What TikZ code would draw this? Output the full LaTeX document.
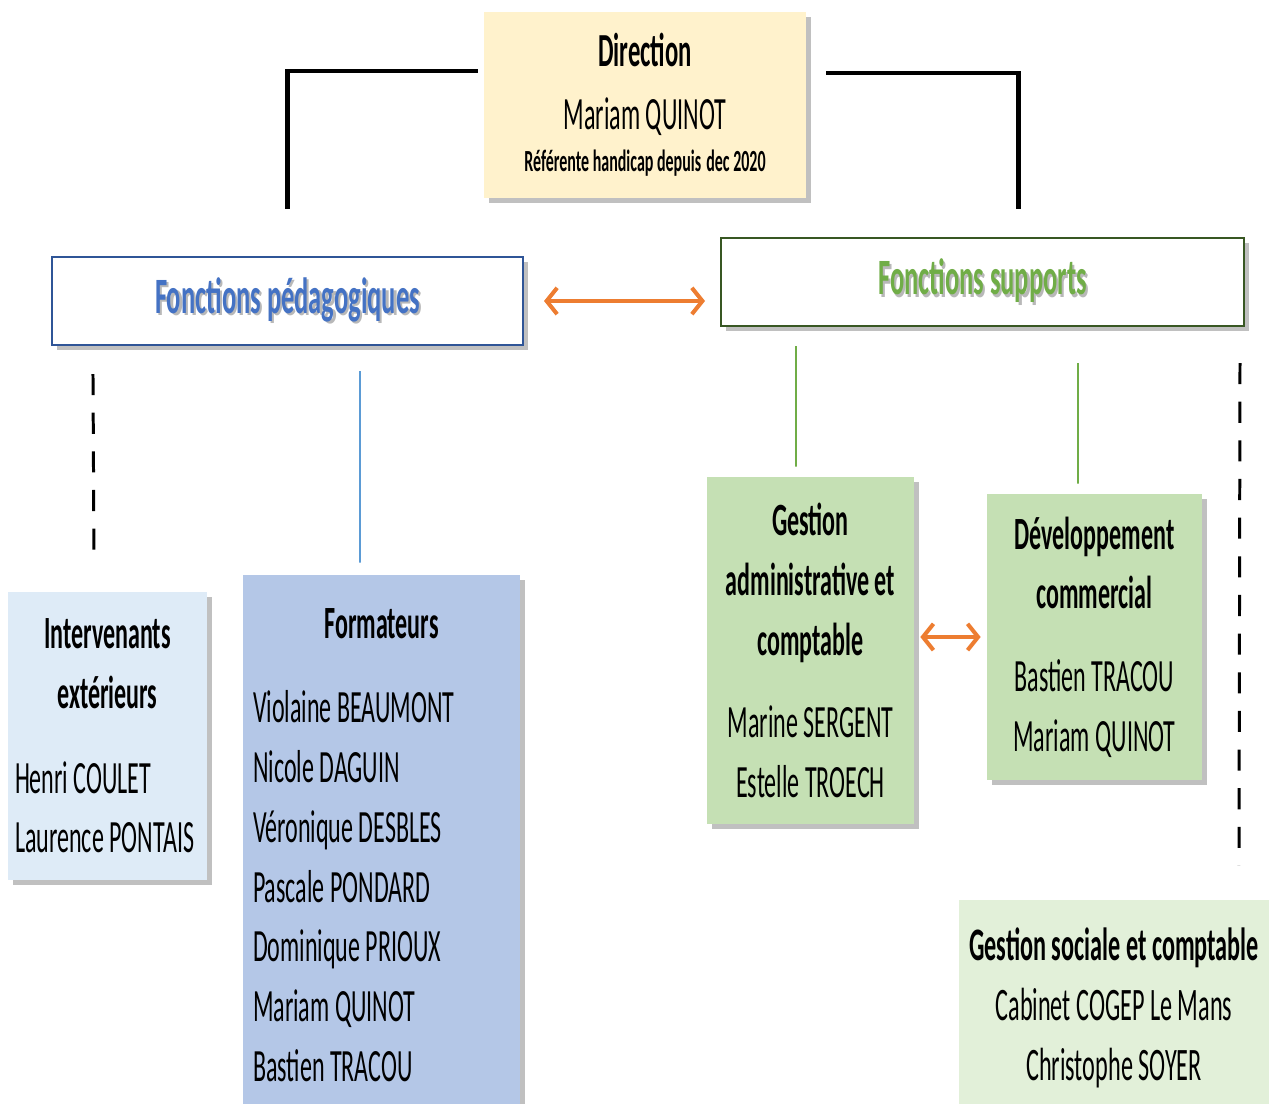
\documentclass[tikz,border=0pt]{standalone}
\usepackage{fontspec}
\setmainfont{Carlito}[FakeStretch=0.52]
\usepackage{tikz}
\usetikzlibrary{positioning,shadows,arrows.meta}

\definecolor{dirfill}{HTML}{FFF2CC}
\definecolor{pedborder}{HTML}{2F5597}
\definecolor{pedtext}{HTML}{4472C4}
\definecolor{supborder}{HTML}{385723}
\definecolor{suptext}{HTML}{70AD47}
\definecolor{intvfill}{HTML}{DEEBF7}
\definecolor{formfill}{HTML}{B4C7E7}
\definecolor{vertfill}{HTML}{C5E0B4}
\definecolor{socfill}{HTML}{E2F0D9}
\definecolor{orangeline}{HTML}{ED7D31}
\definecolor{blueline}{HTML}{5B9BD5}

\newcommand{\ombre}[2]{\makebox[0pt][l]{\hspace{1.3pt}\raisebox{-1.3pt}{\color{black!28}#2}}\textcolor{#1}{#2}}
\newcommand{\titre}[1]{\hfill\textbf{#1}\hfill\null}

\begin{document}
\begin{tikzpicture}[x=0.02cm,y=-0.02cm,
    box/.style={rectangle,inner sep=0pt,drop shadow={shadow xshift=3pt,shadow yshift=-3pt,opacity=.45,fill=black!55}},
    noms/.style={font=\fontsize{26.3}{34}\selectfont},
    link/.style={line width=2.3pt},
    tirets/.style={line width=1.7pt,dash pattern=on 12pt off 10pt},
    fleche/.style={draw=orangeline,line width=2.3pt,arrows={Straight Barb[length=6pt,width=15pt]-Straight Barb[length=6pt,width=15pt]}}]
 \useasboundingbox (0,0) rectangle (1269,1104);

  % Direction
  \node[box,fill=dirfill,minimum width=6.44cm,minimum height=3.72cm,align=center,font=\fontsize{26.3}{36}\selectfont] (dir) at (645,105)
     {{\fontsize{27}{36}\selectfont\bfseries Direction}\\Mariam QUINOT\\[-12pt]{\fontsize{17.5}{20}\selectfont\bfseries Référente handicap depuis\,dec 2020}};

  % les deux fonctions
  \node[box,draw=pedborder,line width=1.2pt,fill=white,minimum width=9.42cm,minimum height=1.76cm,font=\fontsize{29}{36}\selectfont\bfseries] (ped) at (287.5,301)
     {\ombre{pedtext}{Fonctions pédagogiques}};
  \node[box,draw=supborder,line width=1.2pt,fill=white,minimum width=10.46cm,minimum height=1.76cm,font=\fontsize{29}{36}\selectfont\bfseries] (sup) at (982.5,282)
     {\ombre{suptext}{Fonctions supports}};

  % pedagogie
  \node[box,fill=intvfill,minimum width=3.98cm,minimum height=5.76cm,text width=3.7cm,align=flush left,noms] (intv) at (107.5,736)
     {\titre{Intervenants}\\\titre{extérieurs}\\[.5cm]Henri COULET\\Laurence PONTAIS};
  \node[box,fill=formfill,minimum width=5.54cm,minimum height=10.8cm,text width=5.14cm,align=flush left,noms] (form) at (381.5,845)
     {\titre{Formateurs}\\[.5cm]Violaine BEAUMONT\\Nicole DAGUIN\\Véronique DESBLES\\Pascale PONDARD\\Dominique PRIOUX\\Mariam QUINOT\\Bastien TRACOU};

  % supports
  \node[box,fill=vertfill,minimum width=4.14cm,minimum height=6.94cm,align=center,noms] (gadm) at (810.5,650.5)
     {\textbf{Gestion}\\\textbf{administrative et}\\\textbf{comptable}\\[.46cm]Marine SERGENT\\Estelle TROECH};
  \node[box,fill=vertfill,minimum width=4.3cm,minimum height=5.72cm,align=center,noms] (dev) at (1094.5,637)
     {\textbf{Développement}\\\textbf{commercial}\\[.46cm]Bastien TRACOU\\Mariam QUINOT};
  \node[box,fill=socfill,minimum width=6.2cm,minimum height=4.32cm,align=center,font=\fontsize{26.5}{34}\selectfont] (gsoc) at (1114,1008)
     {\textbf{Gestion sociale et comptable}\\Cabinet COGEP Le Mans\\Christophe SOYER};

  % liens
  \draw[link] ([xshift=-.12cm,yshift=-1.18cm]dir.north west) -| ([yshift=.94cm]ped.north);
  \draw[link] ([xshift=.4cm,yshift=-1.22cm]dir.north east) -| ([xshift=.72cm,yshift=.56cm]sup.north);
  \draw[fleche,shorten <=.4cm,shorten >=.3cm] (ped.east) -- (ped.east -| sup.west);
  \draw[fleche,shorten <=.12cm,shorten >=.12cm] (gadm.east |- dev.west) -- (dev.west);

  \draw[tirets] ([xshift=.84cm,yshift=-.56cm]ped.south west) -- ([xshift=-.27cm,yshift=.64cm]intv.north);
  \draw[blueline,line width=1pt] ([xshift=1.45cm,yshift=-.5cm]ped.south) -- ([xshift=-.43cm,yshift=.24cm]form.north);
  \draw[suptext,line width=1pt] ([xshift=-3.73cm,yshift=-.38cm]sup.south) -- ([xshift=-.29cm,yshift=.2cm]gadm.north);
  \draw[suptext,line width=1pt] ([xshift=1.91cm,yshift=-.72cm]sup.south) -- ([xshift=-.33cm,yshift=.2cm]dev.north);
  \draw[tirets] ([xshift=-.1cm,yshift=-.72cm]sup.south east) -- ([xshift=2.5cm,yshift=.68cm]gsoc.north);
\end{tikzpicture}
\end{document}
